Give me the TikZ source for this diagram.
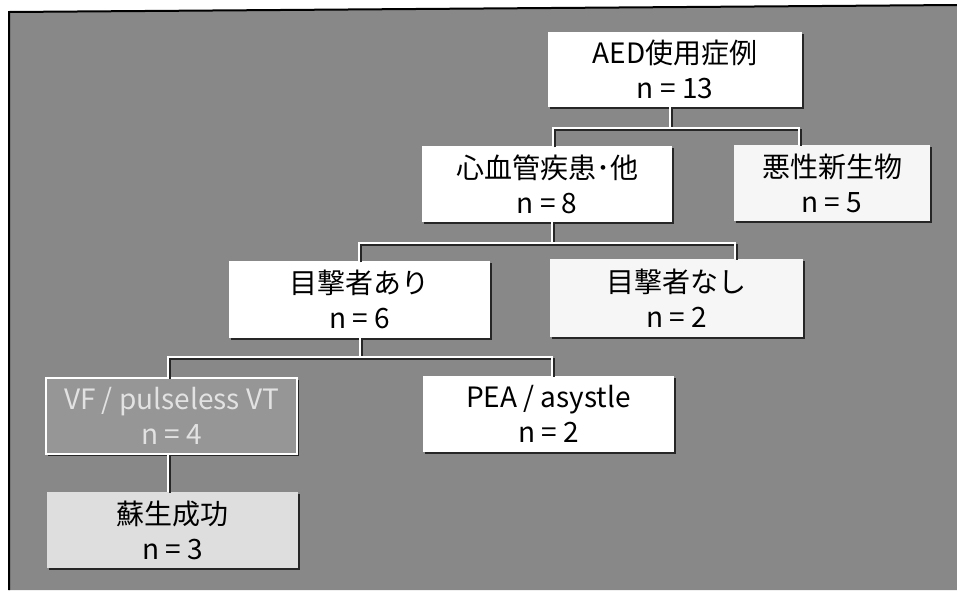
\documentclass[tikz,border=0pt]{standalone}
\usepackage{fontspec}
\setmainfont{Noto Sans CJK JP}
\usepackage{xcolor}
\usetikzlibrary{shadows}

\definecolor{scangray}{RGB}{136,136,136}
\definecolor{paper}{RGB}{246,246,246}
\definecolor{vfgray}{RGB}{150,150,150}
\definecolor{vftext}{RGB}{226,226,226}
\definecolor{roscgray}{RGB}{222,222,222}

\tikzset{
  casebox/.style={fill=white, minimum width=251, minimum height=76, align=center,
    inner sep=0pt, font=\fontsize{28}{35}\selectfont,
    drop shadow={shadow xshift=1.6pt, shadow yshift=-1.6pt, fill=black!85, opacity=1}},
  vfbox/.style={casebox, fill=vfgray, draw=white, line width=1.6, text=vftext},
  link/.style={draw=white, line width=2, line join=miter,
    preaction={draw=black!85, line width=2, transform canvas={shift={(1.6pt,-1.6pt)}}}}
}

\begin{document}
\begin{tikzpicture}[x=1pt,y=-1pt]
        \useasboundingbox (0,0) rectangle (957,590);
        % scanned page
        \fill [white] (0,0) rectangle (957,590);
        \fill [scangray] (9,12) -- (957,5) -- (957,590) -- (9,590) -- cycle;
        \draw [black, line width=2] (957,5) -- (9,12) -- (9,590);

        % junctions
        \coordinate (s1) at (670,128);
        \coordinate (s1l) at (553,128);
        \coordinate (s1r) at (799,128);
        \coordinate (s2) at (552,243);
        \coordinate (s2l) at (359,243);
        \coordinate (s2r) at (735,243);
        \coordinate (s3) at (360,357);
        \coordinate (s3l) at (168,357);
        \coordinate (s3r) at (552,357);

        \node [casebox, minimum width=254, minimum height=75] (aed) at (675,69.5) {AED使用症例\\n = 13};
        \node [casebox, minimum width=250] (cvd) at (547,184) {心血管疾患･他\\n = 8};
        \node [casebox, fill=paper, minimum width=196] (mal) at (832,183) {悪性新生物\\n = 5};
        \node [casebox, minimum width=261, minimum height=77] (wit) at (359.5,299.5) {目撃者あり\\n = 6};
        \node [casebox, fill=paper, minimum width=253, minimum height=78] (nowit) at (676.5,298) {目撃者なし\\n = 2};
        \node [vfbox] (vf) at (171.5,416) {VF / pulseless VT\\n = 4};
        \node [casebox] (pea) at (548.5,414) {PEA / asystle\\n = 2};
        \node [casebox, fill=roscgray] (rosc) at (172.5,530) {蘇生成功\\n = 3};

        \draw [link] (aed.south -| s1) -- (s1);
        \draw [link] (cvd.north -| s1l) -- (s1l) -- (s1r) -- (mal.north -| s1r);
        \draw [link] (cvd.south -| s2) -- (s2);
        \draw [link] (wit.north -| s2l) -- (s2l) -- (s2r) -- (nowit.north -| s2r);
        \draw [link] (wit.south -| s3) -- (s3);
        \draw [link] (vf.north -| s3l) -- (s3l) -- (s3r) -- (pea.north -| s3r);
        \draw [link] (vf.south -| s3l) -- (rosc.north -| s3l);
\end{tikzpicture}
\end{document}
